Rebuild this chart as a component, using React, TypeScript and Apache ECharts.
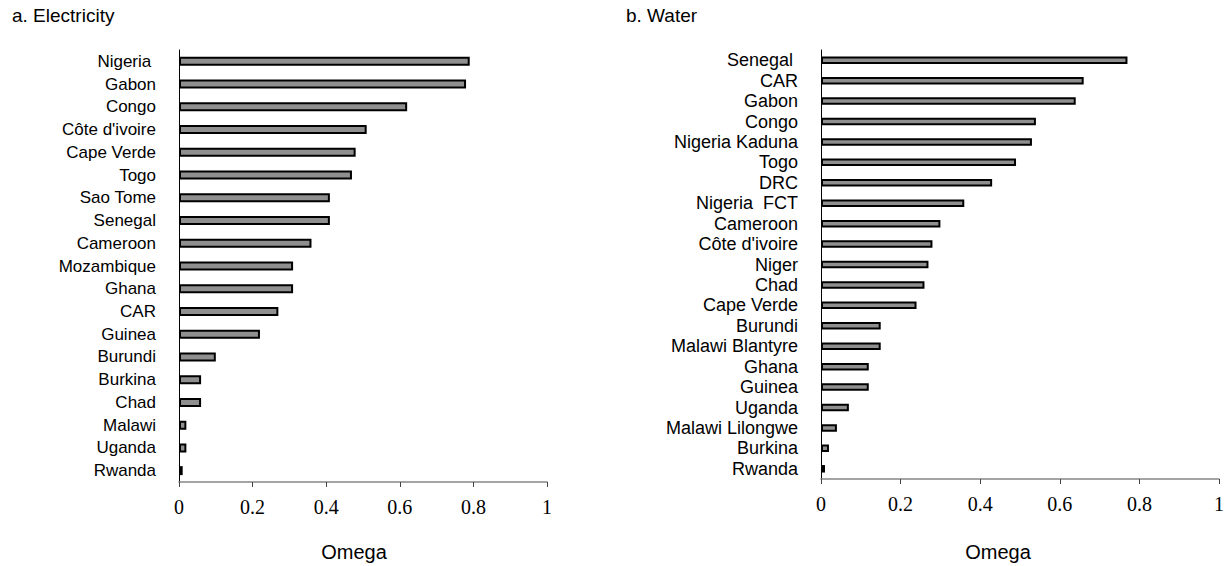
import React, { useEffect, useRef } from "react";
import * as echarts from "echarts";

const panelTitles = ["a. Electricity", "b. Water"];
const axisTitle = "Omega";

const elecCountries = [
  "Nigeria ", "Gabon", "Congo", "Côte d'ivoire", "Cape Verde", "Togo", "Sao Tome",
  "Senegal", "Cameroon", "Mozambique", "Ghana", "CAR", "Guinea", "Burundi",
  "Burkina", "Chad", "Malawi", "Uganda", "Rwanda",
];
const elecOmega = [
  0.79, 0.78, 0.62, 0.51, 0.48, 0.47, 0.41, 0.41, 0.36, 0.31, 0.31, 0.27, 0.22,
  0.1, 0.06, 0.06, 0.02, 0.02, 0.01,
];

const waterCountries = [
  "Senegal ", "CAR", "Gabon", "Congo", "Nigeria Kaduna", "Togo", "DRC",
  "Nigeria  FCT", "Cameroon", "Côte d'ivoire", "Niger", "Chad", "Cape Verde",
  "Burundi", "Malawi Blantyre", "Ghana", "Guinea", "Uganda", "Malawi Lilongwe",
  "Burkina", "Rwanda",
];
const waterOmega = [
  0.77, 0.66, 0.64, 0.54, 0.53, 0.49, 0.43, 0.36, 0.3, 0.28, 0.27, 0.26, 0.24,
  0.15, 0.15, 0.12, 0.12, 0.07, 0.04, 0.02, 0.01,
];

const xMin = 0;
const xMax = 1;
const xStep = 0.2;

const SANS = "'Liberation Sans', Arial, sans-serif";
const SERIF = "'Liberation Serif', 'Times New Roman', serif";

function xAxisCfg(gridIndex: number) {
  return {
    type: "value",
    gridIndex,
    min: xMin,
    max: xMax,
    interval: xStep,
    splitLine: { show: false },
    axisLine: { show: true, lineStyle: { color: "#868686", width: 1.5 } },
    axisTick: { show: true, length: 5, lineStyle: { color: "#444", width: 1 } },
    axisLabel: {
      margin: 15,
      fontFamily: SERIF,
      fontSize: 20,
      color: "#000",
    },
  };
}

function yAxisCfg(gridIndex: number, data: string[], size: number) {
  return {
    type: "category",
    gridIndex,
    data,
    inverse: true,
    axisLine: { show: true, lineStyle: { color: "#000", width: 1 } },
    axisTick: { show: false },
    axisLabel: {
      margin: 23,
      fontFamily: SANS,
      fontSize: size,
      color: "#000",
      interval: 0,
    },
  };
}

export default function App() {
  const ref = useRef<HTMLDivElement>(null);
  useEffect(() => {
    if (!ref.current) return;
    const chart = echarts.init(ref.current, undefined, { renderer: "svg" });
    chart.setOption({
      animation: false,
      backgroundColor: "#fff",
      grid: [
        { left: 179, top: 50, width: 368, height: 432 },
        { left: 821, top: 50, width: 402, height: 429 },
      ],
      xAxis: [xAxisCfg(0), xAxisCfg(1)],
      yAxis: [yAxisCfg(0, elecCountries, 17), yAxisCfg(1, waterCountries, 18)],
      series: [
        {
          type: "bar",
          xAxisIndex: 0,
          yAxisIndex: 0,
          data: elecOmega,
          barWidth: 9,
          itemStyle: { color: "#8f8f8f", borderColor: "#000", borderWidth: 2 },
        },
        {
          type: "bar",
          xAxisIndex: 1,
          yAxisIndex: 1,
          data: waterOmega,
          barWidth: 7.5,
          itemStyle: { color: "#8f8f8f", borderColor: "#000", borderWidth: 2 },
        },
      ],
      graphic: [
        {
          type: "text",
          left: 12,
          top: 6,
          style: { text: panelTitles[0], font: `19px ${SANS}`, fill: "#000" },
        },
        {
          type: "text",
          left: 626,
          top: 6,
          style: { text: panelTitles[1], font: `19px ${SANS}`, fill: "#000" },
        },
        {
          type: "text",
          x: 354,
          y: 552,
          style: {
            text: axisTitle,
            font: `20px ${SANS}`,
            fill: "#000",
            align: "center",
            verticalAlign: "middle",
          },
        },
        {
          type: "text",
          x: 998,
          y: 552,
          style: {
            text: axisTitle,
            font: `20px ${SANS}`,
            fill: "#000",
            align: "center",
            verticalAlign: "middle",
          },
        },
      ],
    });
    return () => chart.dispose();
  }, []);
  return (
    <div
      ref={ref}
      style={{ position: "absolute", left: 0, top: 0, width: 1227, height: 566 }}
    />
  );
}
